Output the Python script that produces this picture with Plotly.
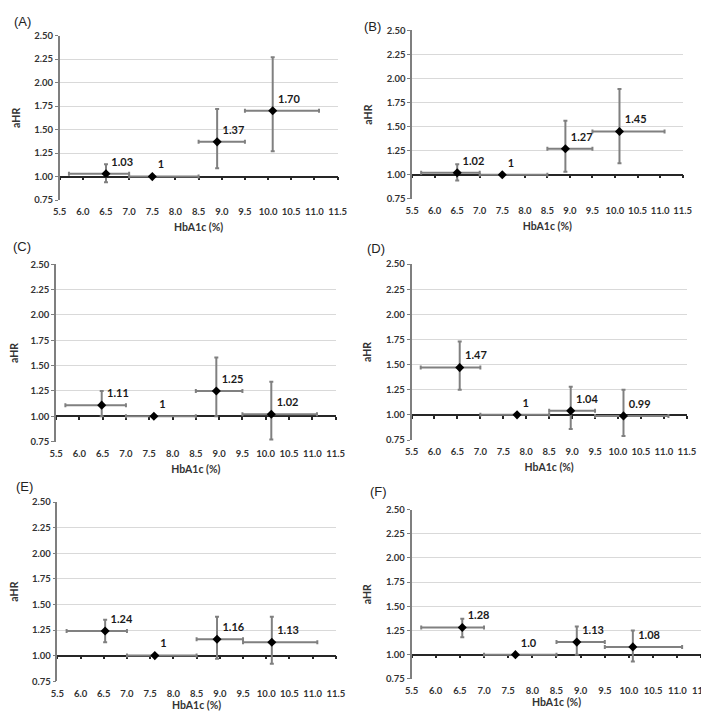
import plotly.graph_objects as go

panel_names = ["(A)", "(B)", "(C)", "(D)", "(E)", "(F)"]

# mean HbA1c of each category (x position of point)
hba1c_mean = [
    [6.50, 7.50, 8.90, 10.10],
    [6.50, 7.50, 8.90, 10.10],
    [6.48, 7.60, 8.94, 10.12],
    [6.55, 7.80, 8.97, 10.12],
    [6.53, 7.60, 8.94, 10.12],
    [6.55, 7.65, 8.92, 10.08],
]
# HbA1c category bounds (horizontal bars)
hba1c_low = [5.7, 7.0, 8.5, 9.5]
hba1c_high = [7.0, 8.5, 9.5, 11.1]

# adjusted hazard ratios
ahr = [
    [1.03, 1.00, 1.37, 1.70],
    [1.02, 1.00, 1.27, 1.45],
    [1.11, 1.00, 1.25, 1.02],
    [1.47, 1.00, 1.04, 0.99],
    [1.24, 1.00, 1.16, 1.13],
    [1.28, 1.00, 1.13, 1.08],
]
ci_low = [
    [0.94, 1.00, 1.09, 1.27],
    [0.94, 1.00, 1.03, 1.12],
    [1.00, 1.00, 1.00, 0.77],
    [1.25, 1.00, 0.86, 0.79],
    [1.13, 1.00, 0.97, 0.92],
    [1.18, 1.00, 1.00, 0.93],
]
ci_high = [
    [1.13, 1.00, 1.72, 2.27],
    [1.11, 1.00, 1.56, 1.89],
    [1.25, 1.00, 1.58, 1.34],
    [1.73, 1.00, 1.28, 1.25],
    [1.35, 1.00, 1.38, 1.38],
    [1.37, 1.00, 1.29, 1.25],
]
value_labels = [
    ["1.03", "1", "1.37", "1.70"],
    ["1.02", "1", "1.27", "1.45"],
    ["1.11", "1", "1.25", "1.02"],
    ["1.47", "1", "1.04", "0.99"],
    ["1.24", "1", "1.16", "1.13"],
    ["1.28", "1.0", "1.13", "1.08"],
]

X_RANGE = [5.5, 11.5]
Y_RANGE = [0.75, 2.5]
Y_TICKS = [0.75, 1.0, 1.25, 1.5, 1.75, 2.0, 2.25, 2.5]
GRID_TICKS = [1.25, 1.5, 1.75, 2.0, 2.25, 2.5]
REF_LINE = 1.0

W, H = 709, 711
# panel plot-area pixel boxes: (left, right, top, bottom)
boxes = [
    (45.7, 330.0, 22.0, 189.0),
    (406.3, 683.0, 16.7, 187.7),
    (42.0, 328.0, 254.3, 434.3),
    (405.7, 687.3, 254.0, 432.7),
    (43.3, 328.3, 495.7, 677.7),
    (405.7, 702.3, 503.3, 675.3),
]
x_title_standoff = [7, 7, 7, 7, 1, 2]
# panel letter centres (px)
label_pos = [(8, 8), (365.5, 12.5), (7, 236), (369, 238), (10, 480), (372, 485.5)]

FONT = "Lato"
TICK_COLOR = "#333333"
BAR_COLOR = "#808080"

fig = go.Figure()
layout = dict(
    width=W, height=H,
    margin=dict(l=0, r=0, t=0, b=0),
    paper_bgcolor="white", plot_bgcolor="white",
    showlegend=False,
    font=dict(family=FONT, color=TICK_COLOR),
    annotations=[],
)

def aid(prefix, n):
    return prefix if n == 1 else f"{prefix}{n}"

for i in range(6):
    n = i + 1
    xa, ya = aid("x", n), aid("y", n)
    xo, yo = aid("x", n + 6), aid("y", n + 6)
    l, r, t, b = boxes[i]
    xd = [l / W, r / W]
    yd = [1 - b / H, 1 - t / H]
    ref_pos = yd[0] + (REF_LINE - Y_RANGE[0]) / (Y_RANGE[1] - Y_RANGE[0]) * (yd[1] - yd[0])

    xs = hba1c_mean[i]
    ys = ahr[i]
    fig.add_trace(go.Scatter(
        x=xs, y=ys, xaxis=xa, yaxis=ya,
        mode="markers+text",
        text=value_labels[i],
        textposition="top right",
        textfont=dict(family=FONT, size=11, color="#1a1a1a", weight="bold"),
        marker=dict(symbol="diamond", size=7, color="black"),
        error_x=dict(type="data", symmetric=False,
                     array=[h - x for h, x in zip(hba1c_high, xs)],
                     arrayminus=[x - lo for lo, x in zip(hba1c_low, xs)],
                     color=BAR_COLOR, thickness=2, width=2),
        error_y=dict(type="data", symmetric=False,
                     array=[h - y for h, y in zip(ci_high[i], ys)],
                     arrayminus=[y - lo for lo, y in zip(ci_low[i], ys)],
                     color=BAR_COLOR, thickness=2, width=2),
        cliponaxis=False,
        hoverinfo="skip",
    ))
    # empty helper traces so overlay axes render
    fig.add_trace(go.Scatter(x=[], y=[], xaxis=xo, yaxis=ya, hoverinfo="skip"))
    fig.add_trace(go.Scatter(x=[], y=[], xaxis=xa, yaxis=yo, hoverinfo="skip"))

    layout["xaxis" if n == 1 else f"xaxis{n}"] = dict(
        domain=xd, anchor=ya, range=X_RANGE, dtick=0.5, tick0=5.5,
        tickformat=".1f", showline=False, showgrid=False, zeroline=False,
        ticks="outside", ticklen=3, tickcolor="rgba(0,0,0,0)",
        tickfont=dict(family=FONT, size=9.5, color=TICK_COLOR, weight="bold"),
        title=dict(text="HbA1c (%)", standoff=x_title_standoff[i],
                   font=dict(family=FONT, size=10.5, color=TICK_COLOR, weight="bold")),
    )
    layout["yaxis" if n == 1 else f"yaxis{n}"] = dict(
        domain=yd, anchor=xa, range=Y_RANGE, tickvals=Y_TICKS,
        tickformat=".2f", showline=True, linecolor="#7f7f7f", linewidth=1.5,
        ticks="outside", ticklen=3, tickcolor="#7f7f7f",
        showgrid=False, zeroline=False,
        tickfont=dict(family=FONT, size=9.5, color=TICK_COLOR, weight="bold"),
        title=dict(text="aHR", standoff=12,
                   font=dict(family=FONT, size=10.5, color=TICK_COLOR, weight="bold")),
    )
    layout[f"xaxis{n + 6}"] = dict(
        overlaying=xa, anchor="free", position=ref_pos, range=X_RANGE,
        dtick=0.5, tick0=5.5, showline=True, linecolor="#262626", linewidth=1.5,
        ticks="outside", ticklen=3, tickcolor="#262626", tickwidth=1.5,
        showticklabels=False, showgrid=False, zeroline=False, layer="below traces",
    )
    layout[f"yaxis{n + 6}"] = dict(
        overlaying=ya, anchor=xa, range=Y_RANGE, tickvals=GRID_TICKS,
        showticklabels=False, ticks="", showline=False, zeroline=False,
        showgrid=True, gridcolor="#d9d9d9", gridwidth=1,
    )
    lx, ly = label_pos[i]
    layout["annotations"].append(dict(
        text=panel_names[i], xref="paper", yref="paper",
        x=lx / W, y=1 - ly / H, xanchor="center", yanchor="middle",
        showarrow=False, font=dict(family="Liberation Sans", size=13, color="#222222"),
    ))

fig.update_layout(**layout)
fig.write_html("out.html")
